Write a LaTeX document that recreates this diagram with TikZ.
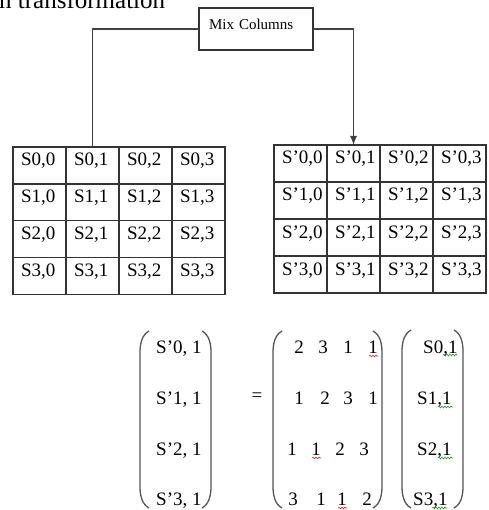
\documentclass[tikz,border=0pt]{standalone}
\usepackage{fontspec}
\setmainfont{Liberation Serif}
\usetikzlibrary{arrows.meta,decorations.pathmorphing}
\definecolor{tablecol}{HTML}{333333}
\definecolor{linecol}{HTML}{404040}
\definecolor{parencol}{HTML}{555555}
\definecolor{spellred}{HTML}{D03030}
\definecolor{spellgreen}{HTML}{309030}
\newcommand\cellfont{\fontsize{19}{21}\selectfont}
\newcommand\myLparen[3]{\draw[paren] ({#1+9},{#2}) .. controls ({#1+2},{#2+4}) and ({#1},{#2+12}) .. ({#1},{#2+22}) -- ({#1},{#3-22}) .. controls ({#1},{#3-12}) and ({#1+2},{#3-4}) .. ({#1+9},{#3});}
\newcommand\myRparen[3]{\draw[paren] ({#1-9},{#2}) .. controls ({#1-2},{#2+4}) and ({#1},{#2+12}) .. ({#1},{#2+22}) -- ({#1},{#3-22}) .. controls ({#1},{#3-12}) and ({#1-2},{#3-4}) .. ({#1-9},{#3});}
\tikzset{
  cell/.style={draw=tablecol, line width=1.3pt, minimum width=53pt, minimum height=37pt,
    inner xsep=8pt, inner ysep=0pt, outer sep=0pt, text width=37pt, align=left,
    text height=19pt, text depth=18pt, anchor=north west, font=\cellfont},
  mixbox/.style={draw=tablecol, line width=1.2pt, minimum width=114pt, minimum height=42pt,
    inner xsep=10pt, inner ysep=0pt, outer sep=0pt, text width=94pt, align=left,
    text height=22pt, text depth=20pt, font=\fontsize{15}{17}\selectfont},
  conn/.style={draw=linecol, line width=1.2pt},
  paren/.style={draw=parencol, line width=1.3pt},
  entry/.style={inner sep=0pt, font=\cellfont},
  squig/.style={decorate, decoration={snake, amplitude=0.9pt, segment length=3pt}, line width=0.6pt}
}
\begin{document}
\begin{tikzpicture}[x=1pt,y=-1pt]
\useasboundingbox (0,0) rectangle (488,510);
\fill[white] (0,0) rectangle (488,510);
% top caption, cut by the upper edge as in the reference
\node[inner sep=0pt, anchor=base west, font=\fontsize{25}{27}\selectfont] (cap) at (-1,9) {n transformation};
% Mix Columns box
\node[mixbox] (mix) at (256,29) {Mix Columns};
% tables
\foreach \r in {0,...,3}{
  \foreach \c in {0,...,3}{
    \node[cell] (L\r\c) at ({13+53*\c},{147+36.75*\r}) {S\r,\c};
    \node[cell] (R\r\c) at ({274+53*\c},{145+37*\r}) {S’\r,\c};
  }
}
% connectors
\draw[conn] (mix.west) -| (L01.north);
\draw[conn,-{Latex[length=9pt,width=7pt]}] (mix.east) -| (R01.north);
% left vector
\node[entry, anchor=base west] (v0) at (156,353) {S’0, 1};
\node[entry, anchor=base west] (v1) at (156,404) {S’1, 1};
\node[entry, anchor=base west] (v2) at (156,455) {S’2, 1};
\node[entry, anchor=base west] (v3) at (156,505) {S’3, 1};
\myLparen{140}{331}{508}
\myRparen{211}{331}{508}
% equals
\node[entry] (eq) at (257,397) {=};
% matrix
\node[entry, anchor=base] (m00) at (299,353) {2};
\node[entry, anchor=base] (m01) at (323,353) {3};
\node[entry, anchor=base] (m02) at (348,353) {1};
\node[entry, anchor=base] (m03) at (373,353) {1};
\node[entry, anchor=base] (m10) at (299,404) {1};
\node[entry, anchor=base] (m11) at (325,404) {2};
\node[entry, anchor=base] (m12) at (348,404) {3};
\node[entry, anchor=base] (m13) at (373,404) {1};
\node[entry, anchor=base] (m20) at (292,455) {1};
\node[entry, anchor=base] (m21) at (316,455) {1};
\node[entry, anchor=base] (m22) at (340,455) {2};
\node[entry, anchor=base] (m23) at (364,455) {3};
\node[entry, anchor=base] (m30) at (293,505) {3};
\node[entry, anchor=base] (m31) at (321,505) {1};
\node[entry, anchor=base] (m32) at (342,505) {1};
\node[entry, anchor=base] (m33) at (367,505) {2};
\myLparen{273}{331}{508}
\myRparen{382}{331}{508}
% right vector
\node[entry, anchor=base west] (r0) at (423,353) {S0,1};
\node[entry, anchor=base west] (r1) at (417,404) {S1,1};
\node[entry, anchor=base west] (r2) at (417,455) {S2,1};
\node[entry, anchor=base west] (r3) at (413,505) {S3,1};
\myLparen{402}{330}{508}
\myRparen{463}{330}{508}
% spell-check squiggles
\draw[squig, spellred] (369,356) -- (378,356);
\draw[squig, spellred] (312,458) -- (321,458);
\draw[squig, spellred] (338,508) -- (347,508);
\draw[squig, spellgreen] (443,355) -- (457,355);
\draw[squig, spellgreen] (438,407) -- (453,407);
\draw[squig, spellgreen] (438,458) -- (453,458);
\draw[squig, spellgreen] (432,508) -- (447,508);
\end{tikzpicture}
\end{document}
